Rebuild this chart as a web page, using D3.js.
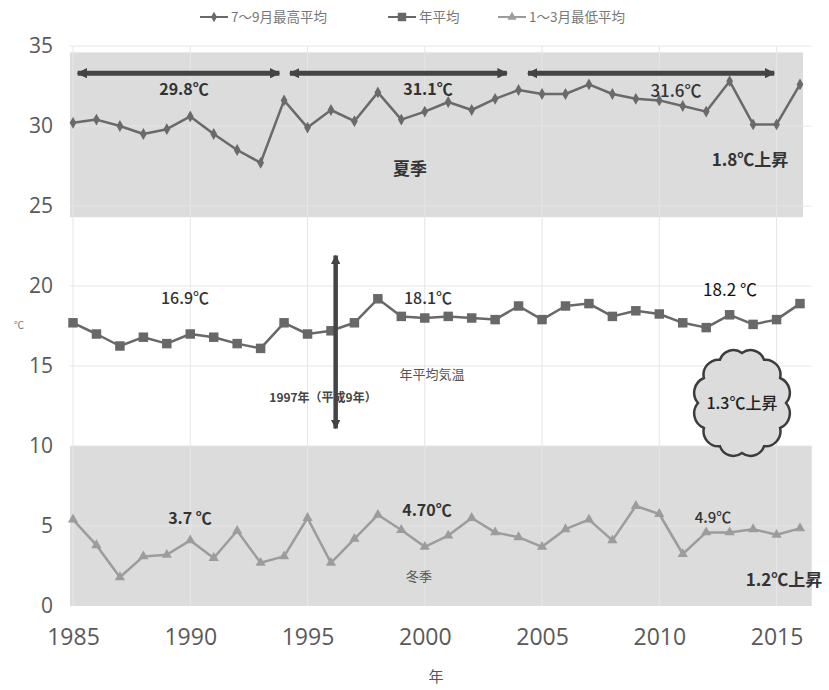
<!DOCTYPE html>
<html>
<head>
<meta charset="utf-8">
<script src="https://cdn.jsdelivr.net/npm/d3@7"></script>
<style>
  html, body { margin: 0; padding: 0; background: #fff; }
  svg { display: block; }
</style>
</head>
<body>
<svg id="chart" width="829" height="690"></svg>
<script>
// Years 1985–2016
const years = [1985,1986,1987,1988,1989,1990,1991,1992,1993,1994,1995,1996,1997,1998,1999,2000,
               2001,2002,2003,2004,2005,2006,2007,2008,2009,2010,2011,2012,2013,2014,2015,2016];

// 7～9月最高平均 (summer mean of daily maxima)
const summerMax = [30.2,30.4,30.0,29.5,29.8,30.6,29.5,28.5,27.7,31.6,29.9,31.0,30.3,32.1,30.4,30.9,
                   31.5,31.0,31.7,32.25,32.0,32.0,32.6,32.0,31.7,31.6,31.25,30.9,32.8,30.1,30.1,32.6];

// 年平均 (annual mean)
const annualMean = [17.7,17.0,16.25,16.8,16.4,17.0,16.8,16.4,16.1,17.7,17.0,17.2,17.7,19.2,18.1,18.0,
                    18.1,18.0,17.9,18.75,17.9,18.75,18.9,18.1,18.45,18.25,17.7,17.4,18.2,17.6,17.9,18.9];

// 1～3月最低平均 (winter mean of daily minima)
const winterMin = [5.4,3.8,1.8,3.1,3.2,4.1,3.0,4.7,2.7,3.1,5.5,2.7,4.2,5.7,4.75,3.7,
                   4.4,5.5,4.6,4.3,3.7,4.8,5.4,4.1,6.25,5.75,3.25,4.6,4.6,4.8,4.45,4.85];

const xTicks = [1985,1990,1995,2000,2005,2010,2015];
const yTicks = [0,5,10,15,20,25,30,35];
const seriesNames = ["7～9月最高平均", "年平均", "1～3月最低平均"];

// Period averages shown as spans across the summer band
const periodSpans = [[1985.2, 1993.8], [1994.25, 2003.5], [2004.4, 2014.9]];

const svg = d3.select("#chart");
const x = d3.scaleLinear().domain([1985, 2016]).range([73, 800]);
const y = d3.scaleLinear().domain([0, 35]).range([606, 46]);

const CJK = "'Noto Sans CJK JP', 'Noto Sans', sans-serif";
const AX = "'Open Sans', 'Noto Sans', sans-serif";

// Shaded seasonal bands
svg.append("rect")
  .attr("x", x(1984.87)).attr("width", x(2016.13) - x(1984.87))
  .attr("y", y(34.6)).attr("height", y(24.3) - y(34.6))
  .attr("fill", "#dcdcdc");
svg.append("rect")
  .attr("x", x(1984.87)).attr("width", x(2016.5) - x(1984.87))
  .attr("y", y(10)).attr("height", y(0) - y(10))
  .attr("fill", "#dcdcdc");

// Gridlines
const grid = svg.append("g");
grid.selectAll("line.h").data(yTicks.filter(d => d > 0)).join("line")
  .attr("x1", x(1984.87)).attr("x2", x(2016.5))
  .attr("y1", d => y(d)).attr("y2", d => y(d))
  .attr("stroke", "#e6e6e6").attr("stroke-width", 1);
grid.selectAll("line.v").data(xTicks).join("line")
  .attr("x1", d => x(d)).attr("x2", d => x(d))
  .attr("y1", y(35)).attr("y2", y(0))
  .attr("stroke", "#e6e6e6").attr("stroke-width", 1);

// Axes (labels only)
const yAxis = d3.axisLeft(y).tickValues(yTicks).tickSize(0).tickPadding(0);
const gy = svg.append("g").attr("transform", "translate(53,0)").call(yAxis);
gy.select(".domain").remove();
gy.selectAll("text").attr("font-family", AX).attr("font-size", 21).attr("fill", "#595959");

const xAxis = d3.axisBottom(x).tickValues(xTicks).tickFormat(d3.format("d")).tickSize(0).tickPadding(0);
const gx = svg.append("g").attr("transform", "translate(0,629)").call(xAxis);
gx.select(".domain").remove();
gx.selectAll("text").attr("font-family", AX).attr("font-size", 23).attr("fill", "#595959");

svg.append("text").attr("x", 436).attr("y", 682).attr("text-anchor", "middle")
  .attr("font-family", CJK).attr("font-size", 15).attr("fill", "#555").text("年");
svg.append("text").attr("x", 19).attr("y", 329).attr("text-anchor", "middle")
  .attr("font-family", CJK).attr("font-size", 10).attr("fill", "#777").text("℃");

// Series
const series = [
  { name: seriesNames[0], values: summerMax, color: "#6a6a6a", symbol: d3.symbolDiamond, size: 40 },
  { name: seriesNames[1], values: annualMean, color: "#686868", symbol: d3.symbolSquare, size: 90 },
  { name: seriesNames[2], values: winterMin, color: "#9c9c9c", symbol: d3.symbolTriangle, size: 45 }
];
const line = d3.line().x(d => x(d[0])).y(d => y(d[1]));
series.forEach(s => {
  const pts = years.map((yr, i) => [yr, s.values[i]]);
  svg.append("path").datum(pts).attr("d", line)
    .attr("fill", "none").attr("stroke", s.color).attr("stroke-width", 2.5)
    .attr("stroke-linejoin", "round");
  svg.append("g").selectAll("path").data(pts).join("path")
    .attr("transform", d => `translate(${x(d[0])},${y(d[1])})`)
    .attr("d", d3.symbol(s.symbol, s.size)).attr("fill", s.color);
});

// Legend
const legendItems = [
  { s: series[0], x0: 200, tx: 231 },
  { s: series[1], x0: 388, tx: 419 },
  { s: series[2], x0: 498, tx: 529 }
];
const lg = svg.append("g");
legendItems.forEach(it => {
  lg.append("line").attr("x1", it.x0).attr("x2", it.x0 + 28).attr("y1", 17).attr("y2", 17)
    .attr("stroke", it.s.color).attr("stroke-width", 2);
  lg.append("path").attr("transform", `translate(${it.x0 + 14},17)`)
    .attr("d", d3.symbol(it.s.symbol, it.s.size * 0.8)).attr("fill", it.s.color);
  lg.append("text").attr("x", it.tx).attr("y", 22).attr("font-family", CJK)
    .attr("font-size", 13.5).attr("fill", "#777").text(it.s.name);
});

// Arrowhead marker, tip placed on the line end
svg.append("defs").append("marker").attr("id", "arrowhead")
  .attr("viewBox", "0 0 10 10").attr("refX", 9).attr("refY", 5)
  .attr("markerWidth", 2.1).attr("markerHeight", 2.1).attr("orient", "auto-start-reverse")
  .append("path").attr("d", "M0,0 L10,5 L0,10 z").attr("fill", "#444");

// Period spans in the summer band
svg.append("g").selectAll("line").data(periodSpans).join("line")
  .attr("x1", d => x(d[0])).attr("x2", d => x(d[1]))
  .attr("y1", y(33.3)).attr("y2", y(33.3))
  .attr("stroke", "#444").attr("stroke-width", 5)
  .attr("marker-start", "url(#arrowhead)").attr("marker-end", "url(#arrowhead)");

// 1997 divider arrow
svg.append("line")
  .attr("x1", x(1996.2)).attr("x2", x(1996.2))
  .attr("y1", y(21.9)).attr("y2", y(11.1))
  .attr("stroke", "#444").attr("stroke-width", 4.5)
  .attr("marker-start", "url(#arrowhead)").attr("marker-end", "url(#arrowhead)");

// Cloud callout
(function drawCloud() {
  const cx = 742, cy = 403, rx = 44, ry = 50, n = 12;
  const pts = d3.range(n).map(i => {
    const a = -Math.PI / 2 + i * 2 * Math.PI / n;
    return [cx + rx * Math.cos(a), cy + ry * Math.sin(a)];
  });
  let d = `M${pts[0][0]},${pts[0][1]}`;
  for (let i = 1; i <= n; i++) {
    const p = pts[i % n], q = pts[i - 1];
    const r = Math.hypot(p[0] - q[0], p[1] - q[1]) * 0.62;
    d += ` A${r},${r} 0 0 1 ${p[0]},${p[1]}`;
  }
  d += " Z";
  svg.append("path").attr("d", d).attr("fill", "#dcdcdc")
    .attr("stroke", "#3c3c3c").attr("stroke-width", 2.5);
})();

// Annotations
function note(t, px, py, opts) {
  const o = Object.assign({ size: 16, weight: 700, fill: "#333", anchor: "middle" }, opts || {});
  svg.append("text").attr("x", px).attr("y", py).attr("text-anchor", o.anchor)
    .attr("font-family", CJK).attr("font-size", o.size).attr("font-weight", o.weight)
    .attr("fill", o.fill).text(t);
}
note("29.8℃", 184, 95);
note("31.1℃", 428, 95);
note("31.6℃", 676, 97, { size: 17, weight: 500 });
note("夏季", 410, 175, { size: 17 });
note("1.8℃上昇", 750, 166, { size: 17 });

note("16.9℃", 185, 304, { weight: 500 });
note("18.1℃", 428, 304, { weight: 500 });
note("18.2 ℃", 730, 296, { size: 17, weight: 400, fill: "#111" });
note("年平均気温", 432, 379, { size: 13, weight: 400, fill: "#555" });
note("1997年（平成9年）", 323, 402, { size: 12, weight: 700, fill: "#444" });
note("1.3℃上昇", 742, 409, { size: 16, weight: 500, fill: "#222" });

note("3.7 ℃", 190, 524);
note("4.70℃", 427, 516);
note("冬季", 419, 581, { size: 13, weight: 400, fill: "#555" });
note("4.9℃", 713, 523, { size: 15, weight: 500 });
note("1.2℃上昇", 784, 586, { size: 17 });
</script>
</body>
</html>
